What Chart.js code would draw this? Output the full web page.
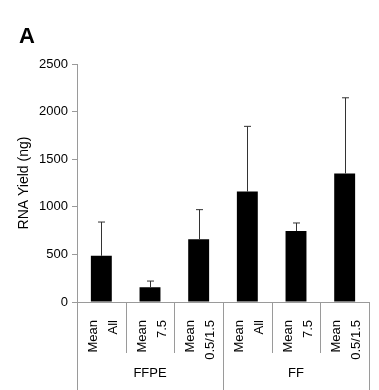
<!DOCTYPE html>
<html>
<head>
<meta charset="utf-8">
<script src="https://cdn.jsdelivr.net/npm/chart.js@4"></script>
<style>
  html, body { margin: 0; padding: 0; background: #fff; }
  #wrap { width: 379px; height: 390px; }
</style>
</head>
<body>
<div id="wrap"><canvas id="c" width="379" height="390"></canvas></div>
<script>
// data
const categories = [
  ['Mean', 'All'], ['Mean', '7.5'], ['Mean', '0.5/1.5'],
  ['Mean', 'All'], ['Mean', '7.5'], ['Mean', '0.5/1.5']
];
const groups = ['FFPE', 'FF'];
const groupSize = 3;
const means = [485, 155, 660, 1160, 745, 1350];
const errors = [355, 65, 310, 685, 85, 795];
const yTicks = [0, 500, 1000, 1500, 2000, 2500];

const axisGrey = '#9a9a9a';
const fontFamily = 'Arial, "Liberation Sans", sans-serif';

// error bars, category dividers, group labels and the panel letter
const extras = {
  id: 'extras',
  afterDatasetsDraw(chart) {
    const ctx = chart.ctx;
    const x = chart.scales.x;
    const y = chart.scales.y;
    const meta = chart.getDatasetMeta(0);
    ctx.save();

    // error bars (upper only)
    ctx.strokeStyle = '#333';
    ctx.lineWidth = 1;
    meta.data.forEach((bar, i) => {
      const px = Math.round(bar.x) + 0.5;
      const top = y.getPixelForValue(means[i] + errors[i]);
      ctx.beginPath();
      ctx.moveTo(px, bar.y);
      ctx.lineTo(px, top);
      ctx.moveTo(px - 3.5, top);
      ctx.lineTo(px + 3.5, top);
      ctx.stroke();
    });

    // dividers under the x axis
    const bottom = chart.chartArea.bottom;
    ctx.strokeStyle = axisGrey;
    for (let i = 0; i <= categories.length; i++) {
      const px = Math.round(x.getPixelForValue(i - 0.5)) + 0.5;
      const long = i % groupSize === 0;
      ctx.beginPath();
      ctx.moveTo(px, bottom);
      ctx.lineTo(px, long ? chart.height : bottom + 51);
      ctx.stroke();
    }

    // group labels
    ctx.fillStyle = '#000';
    ctx.font = '13px ' + fontFamily;
    ctx.textAlign = 'center';
    ctx.textBaseline = 'middle';
    groups.forEach((g, gi) => {
      const a = x.getPixelForValue(gi * groupSize - 0.5);
      const b = x.getPixelForValue((gi + 1) * groupSize - 0.5);
      ctx.fillText(g, (a + b) / 2, 373);
    });

    // panel letter
    ctx.font = 'bold 22px ' + fontFamily;
    ctx.textAlign = 'left';
    ctx.textBaseline = 'alphabetic';
    ctx.fillText('A', 19, 43);
    ctx.restore();
  }
};

new Chart(document.getElementById('c'), {
  type: 'bar',
  data: {
    labels: categories,
    datasets: [{
      data: means,
      backgroundColor: '#000',
      borderWidth: 0,
      barPercentage: 0.43,
      categoryPercentage: 1
    }]
  },
  options: {
    responsive: false,
    animation: false,
    layout: { padding: { top: 64, right: 10, left: 0, bottom: 0 } },
    plugins: { legend: { display: false }, tooltip: { enabled: false } },
    scales: {
      x: {
        grid: { display: false },
        border: { color: axisGrey },
        ticks: {
          color: '#000',
          font: { size: 13, family: fontFamily, lineHeight: 1.55 },
          minRotation: 90,
          maxRotation: 90,
          autoSkip: false,
          padding: 10,
          labelOffset: -8
        },
        afterFit(scale) {
          scale.height = 88;
          scale.paddingLeft = 0;
          scale.paddingRight = 0;
        }
      },
      y: {
        min: 0,
        max: 2500,
        afterBuildTicks(scale) { scale.ticks = yTicks.map(v => ({ value: v })); },
        grid: {
          drawOnChartArea: false,
          drawTicks: true,
          tickLength: 5,
          color: axisGrey
        },
        border: { color: axisGrey },
        ticks: {
          color: '#000',
          font: { size: 13, family: fontFamily },
          padding: 4,
          callback: v => String(v)
        },
        title: {
          display: true,
          text: 'RNA Yield (ng)',
          color: '#000',
          font: { size: 14, family: fontFamily },
          padding: { top: 16, bottom: 0 }
        },
        afterFit(scale) { scale.width = 77; }
      }
    }
  },
  plugins: [extras]
});
</script>
</body>
</html>
